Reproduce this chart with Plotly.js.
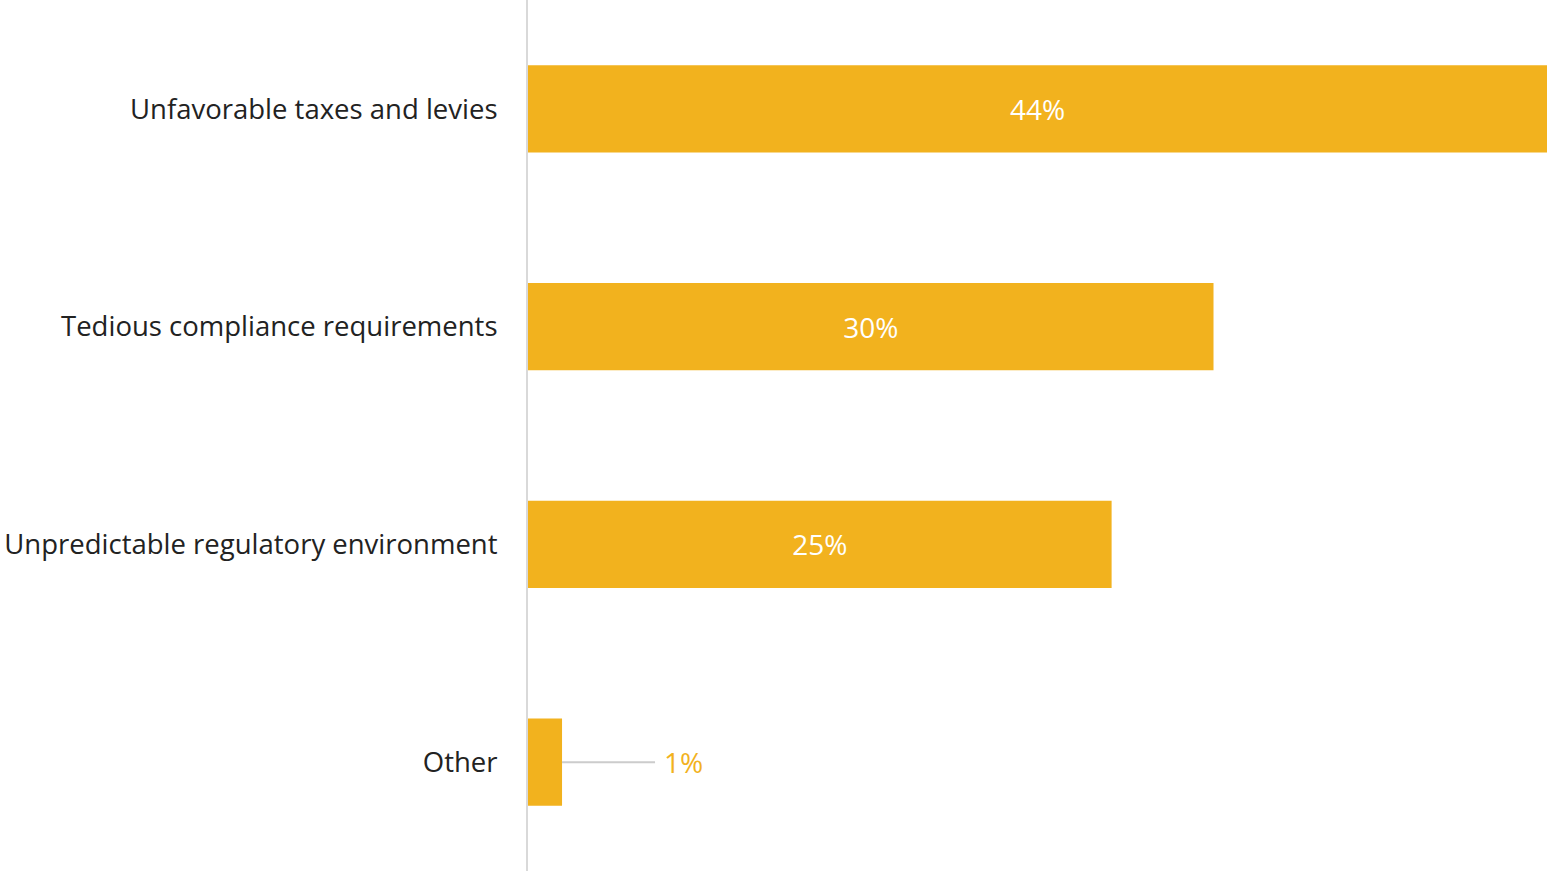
<!DOCTYPE html>
<html>
<head>
<meta charset="utf-8">
<script src="https://cdn.plot.ly/plotly-3.0.1.min.js"></script>
<style>html,body{margin:0;padding:0;background:#fff;}#chart{width:1547px;height:871px;}</style>
</head>
<body>
<div id="chart"></div>
<script>
const categories = ["Unfavorable taxes and levies", "Tedious compliance requirements", "Unpredictable regulatory environment", "Other"];
const values = [44, 29.6, 25.2, 1.47];

const barColor = "#F2B21E";
const fontFamily = "'Open Sans', 'Noto Sans', sans-serif";

const insideText = values.map(v => v >= 5 ? Math.round(v) + "%" : "");
const annotations = [];
values.forEach((v, i) => {
  if (v < 5) {
    annotations.push({
      x: v, y: categories[i], xref: "x", yref: "y",
      text: Math.round(v) + "%",
      showarrow: true, arrowhead: 0, arrowwidth: 2, arrowcolor: "#cccccc",
      axref: "pixel", ayref: "pixel", ax: 93, ay: 0,
      xanchor: "left", yanchor: "middle", borderpad: 8,
      font: {family: fontFamily, size: 28, color: barColor}
    });
  }
});

const trace = {
  type: "bar", orientation: "h",
  x: values, y: categories,
  marker: {color: barColor},
  text: insideText, textposition: "inside", insidetextanchor: "middle",
  textfont: {family: fontFamily, size: 28, color: "#ffffff"},
  hoverinfo: "none", cliponaxis: false
};

const layout = {
  width: 1547, height: 871,
  margin: {l: 528, r: 0, t: 0, b: 0, pad: 0},
  paper_bgcolor: "#ffffff", plot_bgcolor: "#ffffff",
  showlegend: false,
  bargap: 0.6,
  xaxis: {range: [0, 44], visible: false, showgrid: false, zeroline: false, fixedrange: true},
  yaxis: {
    autorange: "reversed", showgrid: false, zeroline: false,
    showline: true, linecolor: "#d9d9d9", linewidth: 2,
    ticks: "", ticklabelstandoff: 23,
    tickfont: {family: fontFamily, size: 27.5, color: "#222222"}
  },
  annotations: annotations
};

Plotly.newPlot("chart", [trace], layout, {displayModeBar: false, staticPlot: true});
</script>
</body>
</html>
